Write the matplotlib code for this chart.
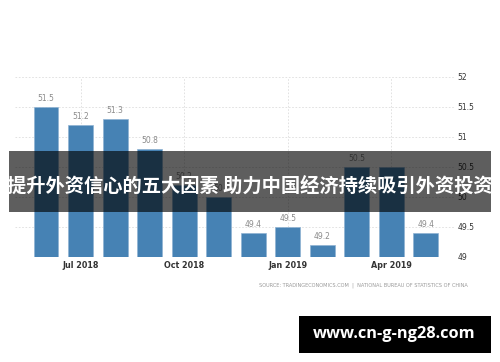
import matplotlib
matplotlib.use('Agg')
import matplotlib.pyplot as plt
from matplotlib.patches import Rectangle

months = ['Jun 2018', 'Jul 2018', 'Aug 2018', 'Sep 2018', 'Oct 2018', 'Nov 2018',
          'Dec 2018', 'Jan 2019', 'Feb 2019', 'Mar 2019', 'Apr 2019', 'May 2019']
pmi = [51.5, 51.2, 51.3, 50.8, 50.2, 50.0, 49.4, 49.5, 49.2, 50.5, 50.5, 49.4]
value_labels = ['51.5', '51.2', '51.3', '50.8', '50.2', '50', '49.4', '49.5',
                '49.2', '50.5', '', '49.4']
tick_idx = [1, 4, 7, 10]
tick_lbls = ['Jul 2018', 'Oct 2018', 'Jan 2019', 'Apr 2019']
y_ticks = [49, 49.5, 50, 50.5, 51, 51.5, 52]
y_lbls = ['49', '49.5', '50', '50.5', '51', '51.5', '52']

title = '提升外资信心的五大因素 助力中国经济持续吸引外资投资'
source = 'SOURCE: TRADINGECONOMICS.COM  |  NATIONAL BUREAU OF STATISTICS OF CHINA'
site = 'www.cn-g-ng28.com'

fig = plt.figure(figsize=(5, 3.62), dpi=100)
ax = fig.add_axes([0.03, 1 - 257 / 362, 0.88, 180 / 362])

x = list(range(len(pmi)))
ax.bar(x, [v - 49 for v in pmi], bottom=49, width=0.72, color='#4682b4',
       edgecolor='#8fb3d3', linewidth=0.5, zorder=2)
for xi, v, lbl in zip(x, pmi, value_labels):
    ax.text(xi, v + 0.06, lbl, ha='center', va='bottom', fontsize=5.5,
            color='#8a8a8a', zorder=3)

ax.set_xlim(-0.9, 11.85)
ax.set_ylim(49, 52)
ax.set_yticks(y_ticks)
ax.set_yticklabels(y_lbls, fontsize=5.5, color='#333333')
ax.yaxis.tick_right()
ax.set_xticks(tick_idx)
ax.set_xticklabels(tick_lbls, fontsize=5.8, color='#333333', fontweight='bold')
ax.tick_params(axis='both', length=0, pad=3)
ax.tick_params(axis='y', pad=2)
ax.grid(True, color='#dddddd', linestyle=(0, (2, 2)), linewidth=0.6, zorder=0)
for s in ax.spines.values():
    s.set_visible(False)

fig.text(468 / 500, 1 - 285 / 362, source, ha='right', va='center',
         fontsize=3.6, color='#999999')

# dark banner with the title
fig.patches.append(Rectangle((9 / 500, 1 - 212 / 362), 482 / 500, 61 / 362,
                             transform=fig.transFigure, facecolor='black',
                             alpha=0.63, zorder=5))
fig.text(0.5, 1 - 186 / 362, title, ha='center', va='center', color='white',
         fontsize=13.9, fontweight='bold',
         family=['Noto Sans CJK SC', 'DejaVu Sans'], zorder=6)

# watermark box
fig.patches.append(Rectangle((299 / 500, 1 - 353 / 362), 192 / 500, 37 / 362,
                             transform=fig.transFigure, facecolor='black',
                             zorder=5))
fig.text(394 / 500, 1 - 334 / 362, site, ha='center', va='center', color='white',
         fontsize=11.8, fontweight='bold', family='Open Sans', zorder=6)

fig.savefig('out.png', dpi=100)
